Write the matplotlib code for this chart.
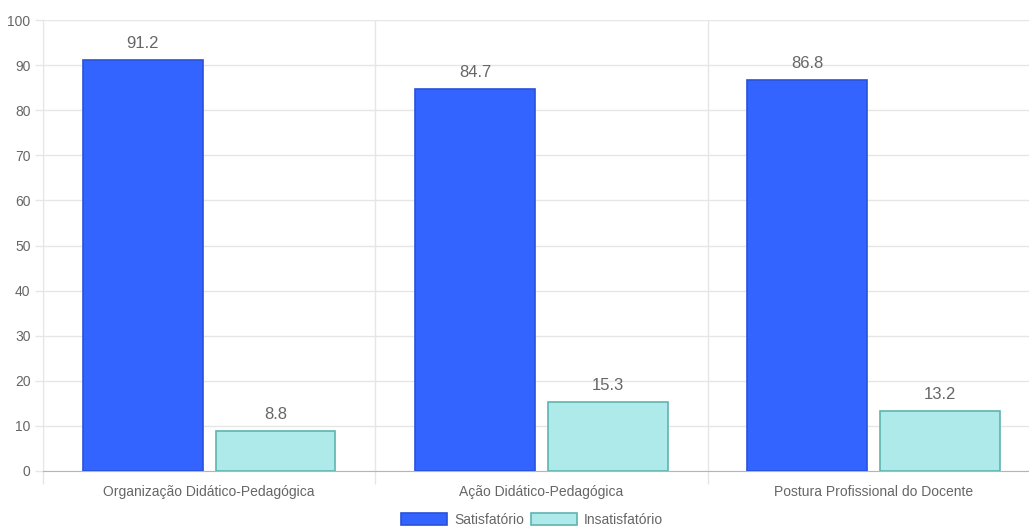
import matplotlib
matplotlib.use("Agg")
import matplotlib.pyplot as plt
import numpy as np

categories = ["Organização Didático-Pedagógica", "Ação Didático-Pedagógica", "Postura Profissional do Docente"]
series_names = ["Satisfatório", "Insatisfatório"]
satisfatorio = [91.2, 84.7, 86.8]
insatisfatorio = [8.8, 15.3, 13.2]
y_ticks = [0, 10, 20, 30, 40, 50, 60, 70, 80, 90, 100]

plt.rcParams['font.family'] = ['Liberation Sans', 'DejaVu Sans']

W, H = 1029, 529
fig = plt.figure(figsize=(W / 100, H / 100), dpi=100)
left_px, right_px, top_px, bottom_px = 43, 1029, 20, 471
ax = fig.add_axes([left_px / W, 1 - bottom_px / H, (right_px - left_px) / W, (bottom_px - top_px) / H])

cat_px = 332.3
x = np.arange(len(categories))
bw = 0.36
off = 0.2
grid_c = '#e6e6e6'
text_c = '#666666'

b1 = ax.bar(x - off, satisfatorio, bw, color='#3464ff', edgecolor='#2a52d9', linewidth=1.2, label=series_names[0], zorder=3)
b2 = ax.bar(x + off, insatisfatorio, bw, color='#aeeae9', edgecolor='#5fb3b0', linewidth=1.2, label=series_names[1], zorder=3)

for bars, vals in ((b1, satisfatorio), (b2, insatisfatorio)):
    for r, v in zip(bars, vals):
        ax.annotate(f"{v:.1f}", (r.get_x() + r.get_width() / 2, v), xytext=(0, 6.5), textcoords='offset points',
                    ha='center', va='bottom', fontsize=12, color=text_c)

ax.set_yticks(y_ticks)
ax.set_yticklabels([str(t) for t in y_ticks], fontsize=10, color=text_c)
ax.set_xticks(x)
ax.set_xticklabels(categories, fontsize=10, color=text_c)
ax.set_xticks([-0.5, 0.5, 1.5, 2.5], minor=True)
ax.set_xlim(-0.5, -0.5 + (right_px - left_px) / cat_px)
ax.set_ylim(0, 100)
ax.tick_params(axis='x', which='major', length=0, pad=10)
ax.tick_params(axis='x', which='minor', length=9, color=grid_c, width=1)
ax.tick_params(axis='y', length=6, color=grid_c, width=1, pad=3)
ax.grid(axis='y', which='major', color=grid_c, linewidth=1, zorder=0)
ax.grid(axis='x', which='minor', color=grid_c, linewidth=1, zorder=0)
for s in ('top', 'right'):
    ax.spines[s].set_visible(False)
ax.spines['left'].set_color(grid_c)
ax.spines['bottom'].set_color('#b5b5b5')

fig.legend(handles=[b1, b2], loc='center', bbox_to_anchor=(532 / W, 1 - 520 / H), ncol=2, frameon=False,
           fontsize=10, labelcolor=text_c, handlelength=3.3, handleheight=1.0, handletextpad=0.5,
           columnspacing=0.5, borderpad=0, borderaxespad=0)

fig.savefig('out.png', dpi=100, facecolor='white')
